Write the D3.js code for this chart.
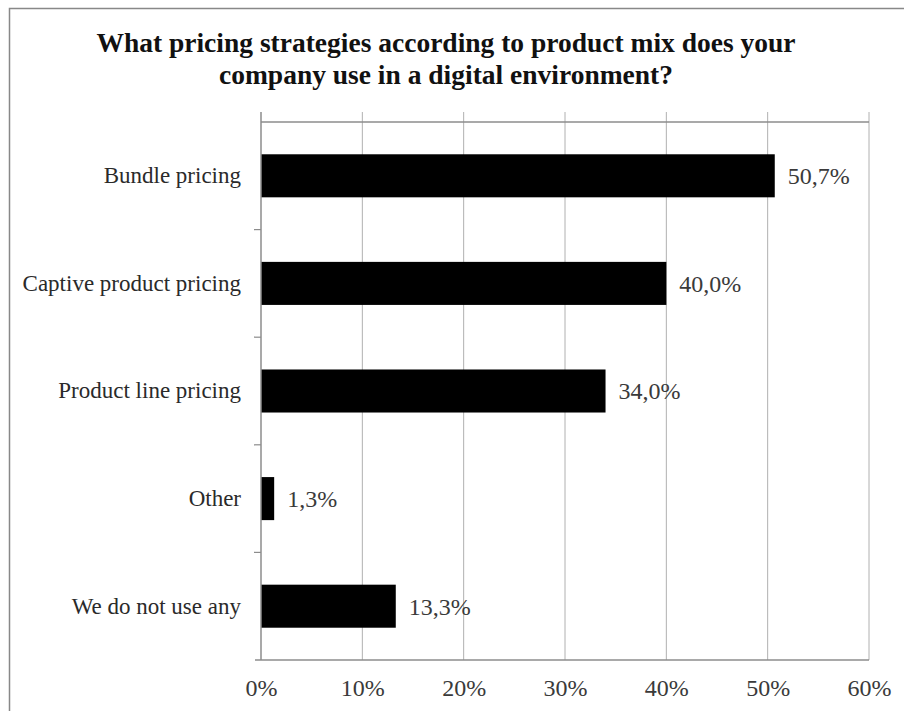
<!DOCTYPE html>
<html><head><meta charset="utf-8">
<script src="https://cdn.jsdelivr.net/npm/d3@7"></script>
<style>body{margin:0;background:#fff;} svg{display:block;}</style>
</head><body>
<svg id="c" width="904" height="711"></svg>
<script>
const categories = ["Bundle pricing","Captive product pricing","Product line pricing","Other","We do not use any"];
const values = [50.7, 40.0, 34.0, 1.3, 13.3];
const valueLabels = ["50,7%","40,0%","34,0%","1,3%","13,3%"];
const xTicks = [0,10,20,30,40,50,60];
const titleLines = ["What pricing strategies according to product mix does your","company use in a digital environment?"];

const svg = d3.select("#c");
const W = 904, H = 711;
const m = {left:261, right:869, top:122, bottom:660};
const FONT = "'Liberation Serif', 'Times New Roman', serif";

svg.append("rect").attr("x",9.5).attr("y",8.5).attr("width",W+10).attr("height",H+10)
  .attr("fill","#fff").attr("stroke","#888").attr("stroke-width",1.5);

const x = d3.scaleLinear().domain([0,60]).range([m.left,m.right]);
const y = d3.scaleBand().domain(categories).range([m.top,m.bottom]).paddingInner(0.6).paddingOuter(0.3);

// gridlines
svg.append("g").selectAll("line").data(xTicks.slice(1)).join("line")
  .attr("x1",d=>x(d)).attr("x2",d=>x(d)).attr("y1",m.top-10).attr("y2",m.bottom)
  .attr("stroke","#b0b0b0").attr("stroke-width",1);

// top frame line
svg.append("line").attr("x1",m.left).attr("x2",m.right).attr("y1",m.top).attr("y2",m.top)
  .attr("stroke","#8c8c8c").attr("stroke-width",1.5);

// bars
svg.append("g").selectAll("rect").data(values).join("rect")
  .attr("x",x(0)).attr("y",(d,i)=>y(categories[i]))
  .attr("width",d=>x(d)-x(0)).attr("height",y.bandwidth())
  .attr("fill","#000");

// value labels
svg.append("g").selectAll("text").data(values).join("text")
  .attr("x",d=>x(d)+13).attr("y",(d,i)=>y(categories[i])+y.bandwidth()/2)
  .attr("dy","0.35em").text((d,i)=>valueLabels[i])
  .attr("font-family",FONT).attr("font-size",24).attr("fill","#3a3a3a");

// x axis
const xAxis = d3.axisBottom(x).tickValues(xTicks).tickFormat(d=>d+"%").tickSize(0).tickPadding(28);
const gx = svg.append("g").attr("transform",`translate(0,${m.bottom})`).call(xAxis);
gx.select(".domain").attr("stroke","#8c8c8c").attr("stroke-width",1.5).attr("d",`M${m.left-6},0H${m.right}`);
gx.selectAll("text").attr("font-family",FONT).attr("font-size",24).attr("fill","#3a3a3a").attr("dy","0.35em");

// y axis
const yAxis = d3.axisLeft(y).tickSize(0).tickPadding(20);
const gy = svg.append("g").attr("transform",`translate(${m.left},0)`).call(yAxis);
gy.select(".domain").attr("stroke","#8c8c8c").attr("stroke-width",1.5).attr("d",`M0,${m.top-10}V${m.bottom}`);
gy.selectAll("text").attr("font-family",FONT).attr("font-size",23).attr("fill","#2a2a2a");
// category boundary ticks
const bounds = d3.range(categories.length+1).map(i=>m.top + i*(m.bottom-m.top)/categories.length);
gy.append("g").selectAll("line").data(bounds.slice(1,-1)).join("line")
  .attr("x1",-7).attr("x2",0).attr("y1",d=>d).attr("y2",d=>d).attr("stroke","#8c8c8c").attr("stroke-width",1.2);

// title
svg.append("g").selectAll("text").data(titleLines).join("text")
  .attr("x",446).attr("y",(d,i)=>52+i*32).attr("text-anchor","middle")
  .attr("font-family",FONT).attr("font-weight","bold")
  .attr("font-size",27.5).attr("fill","#111").text(d=>d);
</script>
</body></html>
